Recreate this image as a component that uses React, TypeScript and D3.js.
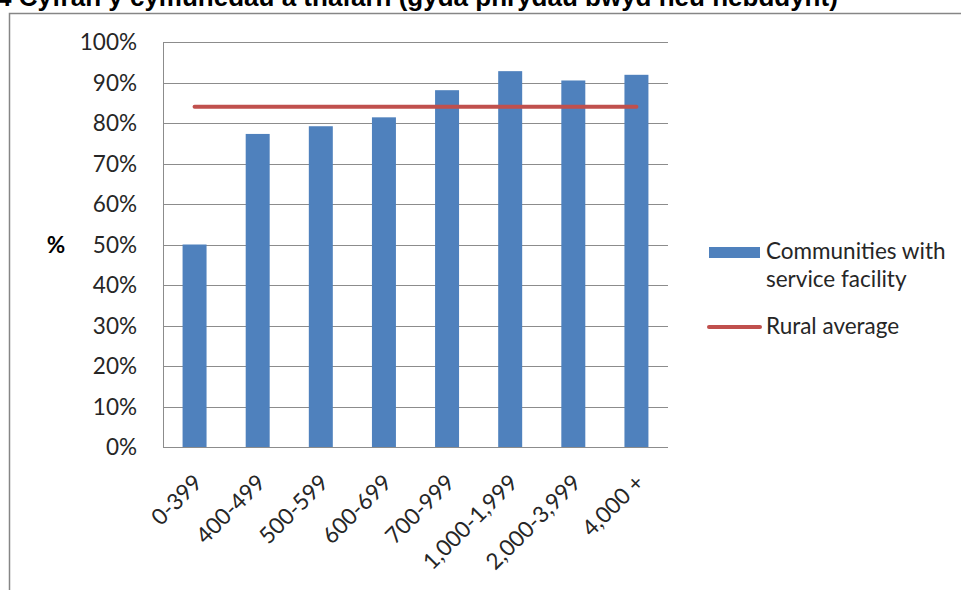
import React, { useRef, useEffect } from 'react';
import * as d3 from 'd3';

// Data
const categories = ['0-399', '400-499', '500-599', '600-699', '700-999', '1,000-1,999', '2,000-3,999', '4,000 +'];
const facilityShare = [50.0, 77.3, 79.2, 81.4, 88.1, 92.8, 90.5, 91.9];
const ruralAverage = 84.0;
const yTicks = [0, 10, 20, 30, 40, 50, 60, 70, 80, 90, 100];

const TITLE = '4 Cyfran y cymunedau a thafarn (gyda phrydau bwyd neu hebddynt)';
const W = 961;
const H = 590;
const PLOT = { left: 163, top: 42, right: 668, bottom: 447 };
const BLUE = '#4F81BD';
const RED = '#C0504D';
const GRID = '#8c8c8c';
const FONT = 'Lato, "Open Sans", sans-serif';
const FS = '22.5px';
const TEXT = '#262626';

export default function App() {
  const svgRef = useRef<SVGSVGElement>(null);

  useEffect(() => {
    if (!svgRef.current) return;
    const svg = d3.select(svgRef.current);
    svg.selectAll('*').remove();

    svg.append('rect').attr('width', W).attr('height', H).attr('fill', '#fff');

    // title (its top is clipped by the picture edge in the reference)
    svg.append('text')
      .attr('x', -3).attr('y', 6)
      .attr('font-family', '"Liberation Sans", Arial, sans-serif')
      .attr('font-weight', 'bold').attr('font-size', '26px')
      .attr('fill', '#000')
      .text(TITLE);

    // chart frame
    svg.append('path')
      .attr('d', `M${W + 2},13.5 H9.5 V${H + 2}`)
      .attr('fill', 'none').attr('stroke', '#868686').attr('stroke-width', 1.5);

    const x = d3.scaleBand().domain(categories).range([PLOT.left, PLOT.right]).paddingInner(0.62).paddingOuter(0.31);
    const xc = d3.scalePoint().domain(categories).range([PLOT.left, PLOT.right]).padding(0.5);
    const y = d3.scaleLinear().domain([0, 100]).range([PLOT.bottom, PLOT.top]);

    // gridlines
    svg.append('g').selectAll('line')
      .data(yTicks)
      .join('line')
      .attr('x1', PLOT.left).attr('x2', PLOT.right)
      .attr('y1', d => Math.round(y(d)) + 0.5).attr('y2', d => Math.round(y(d)) + 0.5)
      .attr('stroke', GRID).attr('stroke-width', 1);

    // y axis line
    svg.append('line')
      .attr('x1', PLOT.left + 0.5).attr('x2', PLOT.left + 0.5)
      .attr('y1', PLOT.top).attr('y2', PLOT.bottom + 0.5)
      .attr('stroke', GRID);

    // y tick labels
    svg.append('g').selectAll('text')
      .data(yTicks)
      .join('text')
      .attr('x', 137).attr('y', d => y(d) + 8)
      .attr('text-anchor', 'end')
      .attr('font-family', FONT).attr('font-size', FS).attr('fill', TEXT)
      .text(d => `${d}%`);

    // y axis title
    svg.append('text')
      .attr('x', 56).attr('y', y(50) + 8)
      .attr('text-anchor', 'middle')
      .attr('font-family', FONT).attr('font-weight', 'bold').attr('font-size', FS).attr('fill', '#000')
      .text('%');

    // bars
    svg.append('g').selectAll('rect')
      .data(facilityShare)
      .join('rect')
      .attr('x', (d, i) => x(categories[i]) as number)
      .attr('width', x.bandwidth())
      .attr('y', d => y(d))
      .attr('height', d => y(0) - y(d))
      .attr('fill', BLUE);

    // rural average line
    svg.append('line')
      .attr('x1', xc(categories[0]) as number)
      .attr('x2', xc(categories[categories.length - 1]) as number)
      .attr('y1', y(ruralAverage)).attr('y2', y(ruralAverage))
      .attr('stroke', RED).attr('stroke-width', 4).attr('stroke-linecap', 'round');

    // x tick labels, rotated
    svg.append('g').selectAll('text')
      .data(categories)
      .join('text')
      .attr('transform', d => `translate(${(xc(d) as number) + 9},${PLOT.bottom + 37}) rotate(-45)`)
      .attr('text-anchor', 'end')
      .attr('font-family', FONT).attr('font-size', FS).attr('fill', TEXT)
      .text(d => d);

    // legend
    const lg = svg.append('g');
    lg.append('rect').attr('x', 709).attr('y', 247).attr('width', 51).attr('height', 11).attr('fill', BLUE);
    lg.append('text').attr('x', 766).attr('y', 259)
      .attr('font-family', FONT).attr('font-size', FS).attr('fill', TEXT)
      .text('Communities with');
    lg.append('text').attr('x', 766).attr('y', 287)
      .attr('font-family', FONT).attr('font-size', FS).attr('fill', TEXT)
      .text('service facility');
    lg.append('line').attr('x1', 709).attr('x2', 760).attr('y1', 327).attr('y2', 327)
      .attr('stroke', RED).attr('stroke-width', 4).attr('stroke-linecap', 'round');
    lg.append('text').attr('x', 766).attr('y', 334)
      .attr('font-family', FONT).attr('font-size', FS).attr('fill', TEXT)
      .text('Rural average');
  }, []);

  return (
    <svg ref={svgRef} width={W} height={H}
      style={{ position: 'absolute', left: 0, top: 0, display: 'block' }} />
  );
}
